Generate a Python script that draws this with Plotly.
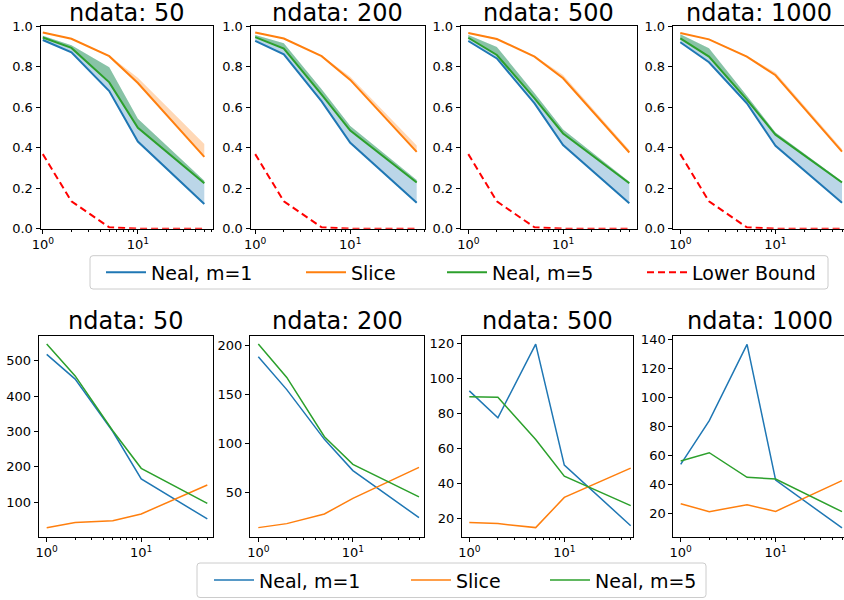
import math
import plotly.graph_objects as go

# ---------------- data ----------------
x_vals = [1, 2, 5, 10, 50]
panel_titles = ["ndata: 50", "ndata: 200", "ndata: 500", "ndata: 1000"]
series_names = ["Neal, m=1", "Slice", "Neal, m=5", "Lower Bound"]

# top row (one list per panel: ndata 50, 200, 500, 1000)
neal1_top = [
    [0.931, 0.870, 0.679, 0.430, 0.122],
    [0.927, 0.860, 0.628, 0.424, 0.128],
    [0.926, 0.840, 0.618, 0.413, 0.125],
    [0.920, 0.821, 0.619, 0.409, 0.128],
]
neal5_top = [
    [0.943, 0.892, 0.722, 0.498, 0.224],
    [0.945, 0.889, 0.662, 0.484, 0.228],
    [0.942, 0.857, 0.643, 0.470, 0.224],
    [0.939, 0.849, 0.637, 0.464, 0.228],
]
neal5_top_upper = [
    [0.952, 0.905, 0.796, 0.542, 0.236],
    [0.956, 0.915, 0.688, 0.507, 0.240],
    [0.956, 0.897, 0.668, 0.490, 0.232],
    [0.959, 0.890, 0.656, 0.475, 0.234],
]
slice_top = [
    [0.968, 0.937, 0.851, 0.719, 0.354],
    [0.968, 0.938, 0.851, 0.734, 0.379],
    [0.965, 0.936, 0.849, 0.742, 0.376],
    [0.965, 0.934, 0.849, 0.757, 0.380],
]
slice_top_upper = [
    [0.970, 0.940, 0.855, 0.745, 0.418],
    [0.970, 0.941, 0.854, 0.750, 0.410],
    [0.968, 0.939, 0.853, 0.758, 0.388],
    [0.967, 0.937, 0.853, 0.770, 0.393],
]
lower_bound = [0.368, 0.135, 0.0067, 0.00005, 0.0]

# bottom row
neal1_bottom = [
    [518, 448, 300, 166, 53],
    [188.7, 155.0, 104.0, 72.0, 23.7],
    [93.0, 77.6, 119.8, 50.5, 15.8],
    [53.9, 83.9, 136.3, 43.1, 10.2],
]
slice_bottom = [
    [28, 43, 48, 67, 149],
    [13.5, 17.6, 27.5, 43.5, 75.3],
    [17.7, 17.0, 14.7, 32.0, 48.8],
    [26.9, 21.4, 26.2, 21.6, 42.7],
]
neal5_bottom = [
    [547, 457, 302, 196, 97],
    [201.7, 167.5, 106.7, 78.4, 45.0],
    [89.7, 89.3, 65.2, 44.2, 27.3],
    [56.2, 61.9, 45.0, 43.8, 21.4],
]

bottom_yticks = [
    [100, 200, 300, 400, 500],
    [50, 100, 150, 200],
    [20, 40, 60, 80, 100, 120],
    [20, 40, 60, 80, 100, 120, 140],
]
top_yticks = [0.0, 0.2, 0.4, 0.6, 0.8, 1.0]
x_major_ticks = [1, 10]
x_major_text = ["10<sup>0</sup>", "10<sup>1</sup>"]
x_minor_ticks = [2, 3, 4, 5, 6, 7, 8, 9, 20, 30, 40, 50, 60, 70]

# ---------------- layout geometry (pixels) ----------------
W, H = 844, 600
# (left spine, right spine, pixel of x=1, pixel of x=50)
top_geom = [(40.5, 212.5, 42.8, 204.3), (250.5, 424.5, 255.2, 416.7),
            (460.7, 636.7, 468.3, 629.3), (672.7, 846.0, 680.3, 842.0)]
bot_geom = [(38.7, 213.3, 46.7, 207.3), (250.0, 424.0, 258.3, 419.0),
            (462.0, 633.3, 469.3, 630.7), (673.3, 847.0, 680.7, 842.0)]
top_ypix = (26.0, 228.7)
bot_ypix = (335.7, 536.7)
bottom_yranges = [[2.8, 570.6], [4.2, 210.3], [9.5, 124.6], [4.2, 142.3]]
# legend boxes (left, top, right, bottom) and text start of each entry
top_legend_box = (90, 255.7, 828, 289)
bot_legend_box = (197, 563, 706, 597.5)
top_legend_text_x = [152, 352, 493, 693]
bot_legend_text_x = [260, 457, 596]

BLUE, ORANGE, GREEN, RED = "#1f77b4", "#ff7f0e", "#2ca02c", "#ff0000"
FONT = "DejaVu Sans"


def xgeom(g):
    L, R, p1, p50 = g
    d = (p50 - p1) / math.log10(50)
    Rc = min(R, W)
    return [L / W, Rc / W], [(L - p1) / d, (Rc - p1) / d], (L + R) / 2 / W


def ydom(t, b):
    return [1 - b / H, 1 - t / H]


def rounded_box(box, r=3):
    x0, y0, x1, y1 = box
    X = lambda p: p / W
    Y = lambda p: 1 - p / H
    pts = [
        f"M{X(x0 + r)},{Y(y0)}", f"L{X(x1 - r)},{Y(y0)}", f"Q{X(x1)},{Y(y0)} {X(x1)},{Y(y0 + r)}",
        f"L{X(x1)},{Y(y1 - r)}", f"Q{X(x1)},{Y(y1)} {X(x1 - r)},{Y(y1)}",
        f"L{X(x0 + r)},{Y(y1)}", f"Q{X(x0)},{Y(y1)} {X(x0)},{Y(y1 - r)}",
        f"L{X(x0)},{Y(y0 + r)}", f"Q{X(x0)},{Y(y0)} {X(x0 + r)},{Y(y0)}", "Z",
    ]
    return dict(type="path", xref="paper", yref="paper", path=" ".join(pts),
                line=dict(color="#cccccc", width=1), fillcolor="rgba(255,255,255,0.8)",
                layer="above")


fig = go.Figure()

axis_common = dict(showline=True, linecolor="black", linewidth=1, mirror=True,
                   ticks="outside", ticklen=4, tickwidth=1, tickcolor="black",
                   showgrid=False, zeroline=False,
                   tickfont=dict(family=FONT, size=13, color="black"))
minor_ticks = dict(tickvals=x_minor_ticks, ticks="outside", ticklen=2, tickcolor="black")

annotations = []


def title_ann(text, xc, ytop, shift):
    return dict(text=text, xref="paper", yref="paper", x=xc, y=1 - ytop / H,
                xanchor="center", yanchor="bottom", showarrow=False, yshift=shift,
                font=dict(family=FONT, size=24, color="black"))


def lkey(n):
    return "legend" if n == 1 else f"legend{n}"


for i in range(4):
    ax = "" if i == 0 else str(i + 1)
    xr, yr = "x" + ax, "y" + ax
    leg = (i == 0)

    def band(lower, upper, color):
        fig.add_trace(go.Scatter(x=x_vals, y=lower, mode="lines", line=dict(width=0),
                                 showlegend=False, hoverinfo="skip", xaxis=xr, yaxis=yr))
        fig.add_trace(go.Scatter(x=x_vals, y=upper, mode="lines", line=dict(width=0),
                                 fill="tonexty", fillcolor=color, showlegend=False,
                                 hoverinfo="skip", xaxis=xr, yaxis=yr))

    band(neal1_top[i], neal5_top_upper[i], "rgba(31,119,180,0.3)")
    band(neal5_top[i], neal5_top_upper[i], "rgba(44,160,44,0.35)")
    band(slice_top[i], slice_top_upper[i], "rgba(255,127,14,0.3)")

    series = [(neal1_top[i], BLUE, None), (slice_top[i], ORANGE, None),
              (neal5_top[i], GREEN, None), (lower_bound, RED, "7px,4px")]
    for k, (ys, col, dash) in enumerate(series):
        fig.add_trace(go.Scatter(x=x_vals, y=ys, mode="lines", name=series_names[k],
                                 line=dict(color=col, width=2, dash=dash), showlegend=leg,
                                 legend=lkey(k + 1), xaxis=xr, yaxis=yr))

    xd, xrng, xc = xgeom(top_geom[i])
    fig.update_layout(**{
        "xaxis" + ax: dict(axis_common, domain=xd, type="log", range=xrng,
                           tickvals=x_major_ticks, ticktext=x_major_text, anchor=yr,
                           minor=minor_ticks),
        "yaxis" + ax: dict(axis_common, domain=ydom(*top_ypix), range=[0, 1],
                           tickvals=top_yticks, tickformat=".1f", anchor=xr),
    })
    annotations.append(title_ann(panel_titles[i], xc, top_ypix[0], -3))

for i in range(4):
    ax = str(i + 5)
    xr, yr = "x" + ax, "y" + ax
    leg = (i == 0)
    series = [(neal1_bottom[i], BLUE), (slice_bottom[i], ORANGE), (neal5_bottom[i], GREEN)]
    for k, (ys, col) in enumerate(series):
        fig.add_trace(go.Scatter(x=x_vals, y=ys, mode="lines", name=series_names[k],
                                 line=dict(color=col, width=1.5), showlegend=leg,
                                 legend=lkey(k + 5), xaxis=xr, yaxis=yr))
    xd, xrng, xc = xgeom(bot_geom[i])
    fig.update_layout(**{
        "xaxis" + ax: dict(axis_common, domain=xd, type="log", range=xrng,
                           tickvals=x_major_ticks, ticktext=x_major_text, anchor=yr,
                           minor=minor_ticks),
        "yaxis" + ax: dict(axis_common, domain=ydom(*bot_ypix), range=bottom_yranges[i],
                           tickvals=bottom_yticks[i], anchor=xr),
    })
    annotations.append(title_ann(panel_titles[i], xc, bot_ypix[0], -1))

legends = {}
TEXT_OFFSET = 51
for k, tx in enumerate(top_legend_text_x):
    legends[lkey(k + 1)] = dict(x=(tx - TEXT_OFFSET) / W,
                                y=1 - (top_legend_box[1] + top_legend_box[3]) / 2 / H)
for k, tx in enumerate(bot_legend_text_x):
    legends[lkey(k + 5)] = dict(x=(tx - TEXT_OFFSET) / W,
                                y=1 - (bot_legend_box[1] + bot_legend_box[3]) / 2 / H)
for key in legends:
    legends[key].update(orientation="h", xanchor="left", yanchor="middle",
                        bgcolor="rgba(0,0,0,0)", borderwidth=0, itemwidth=40,
                        font=dict(family=FONT, size=19, color="black"))

fig.update_layout(
    width=W, height=H,
    margin=dict(l=0, r=0, t=0, b=0, autoexpand=False),
    paper_bgcolor="white", plot_bgcolor="white",
    font=dict(family=FONT, color="black"),
    annotations=annotations,
    shapes=[rounded_box(top_legend_box), rounded_box(bot_legend_box)],
    **legends,
)

fig.write_html("out.html", config={"displayModeBar": False},
               post_script="document.body.style.margin='0px';")
